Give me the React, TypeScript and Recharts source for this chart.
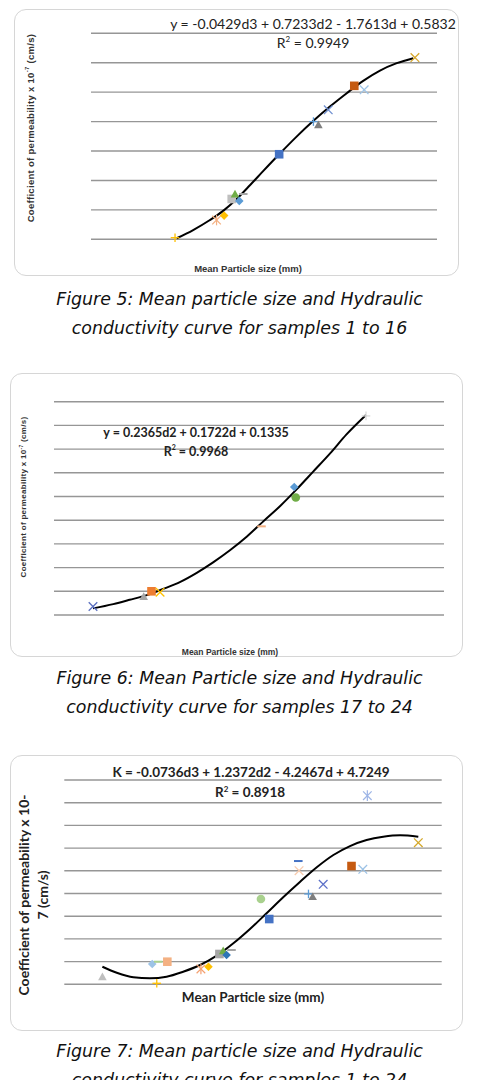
import React from "react";
import { ComposedChart, Scatter, Line, XAxis, YAxis, ReferenceLine } from "recharts";

// Figure 5 – samples 1 to 16
const fig5Size = [2.55, 3.81, 4.04, 4.27, 4.37, 4.5, 4.62, 5.71, 6.75, 6.9, 7.2, 7.99, 8.29, 9.83];
const fig5K = [0.11, 1.31, 1.61, 2.74, 3.08, 2.61, 3.08, 5.78, 8.0, 7.78, 8.8, 10.43, 10.16, 12.35];
const fig5TrendSize = [2.6, 3.1, 3.61, 4.02, 4.42, 4.83, 5.23, 5.71, 6.24, 6.75, 7.25, 7.76, 8.26, 8.77, 9.28, 9.78];
const fig5TrendK = [0.07, 0.63, 1.31, 1.95, 2.74, 3.69, 4.65, 5.78, 6.98, 8.05, 9.02, 9.93, 10.77, 11.47, 11.97, 12.31];
const fig5Ticks = [0, 2, 4, 6, 8, 10, 12, 14];

// Figure 6 – samples 17 to 24
const fig6Size = [0.5, 1.15, 1.25, 1.36, 2.66, 3.08, 3.1, 4.0];
const fig6K = [0.18, 0.39, 0.5, 0.48, 1.87, 2.7, 2.48, 4.2];
const fig6TrendSize = [0.5, 0.76, 0.97, 1.19, 1.4, 1.62, 1.83, 2.04, 2.26, 2.47, 2.68, 2.9, 3.11, 3.32, 3.54, 3.75, 4.0];
const fig6TrendK = [0.14, 0.23, 0.32, 0.42, 0.55, 0.7, 0.89, 1.11, 1.37, 1.65, 1.97, 2.3, 2.65, 3.02, 3.41, 3.81, 4.22];
const fig6Ticks = [0, 0.5, 1, 1.5, 2, 2.5, 3, 3.5, 4, 4.5];

// Figure 7 – samples 1 to 24
const fig7Size = [1.01, 2.33, 2.49, 2.73, 2.45, 3.62, 3.82, 4.11, 4.21, 4.3, 4.43, 5.21, 5.43, 6.2, 6.22, 6.47, 6.58, 6.86, 7.61, 7.91, 8.03, 9.38];
const fig7K = [0.67, 1.79, 1.99, 1.99, 0.09, 1.35, 1.55, 2.67, 2.96, 2.58, 3.02, 7.52, 5.75, 10.86, 10.01, 7.96, 7.72, 8.81, 10.42, 10.13, 16.62, 12.48];
const fig7TrendSize = [1.01, 1.39, 1.83, 2.27, 2.71, 3.15, 3.6, 4.04, 4.48, 4.92, 5.36, 5.8, 6.25, 6.69, 7.13, 7.57, 8.01, 8.45, 8.9, 9.38];
const fig7TrendK = [1.55, 1.02, 0.62, 0.53, 0.67, 1.11, 1.7, 2.52, 3.61, 4.87, 6.26, 7.67, 9.04, 10.31, 11.39, 12.18, 12.71, 13.0, 13.13, 13.0];
const fig7Ticks = [0, 2, 4, 6, 8, 10, 12, 14, 16, 18];

// marker styles, one per sample (kept apart from the values)
const fig5Marks = ["plus", "star", "diamond", "square", "triangle", "diamond", "dash", "square", "plus", "triangle", "x", "square", "x", "x"];
const fig5Colors = ["#FFC000", "#F4B183", "#FFC000", "#BFBFBF", "#70AD47", "#5B9BD5", "#A5A5A5", "#4472C4", "#5B9BD5", "#7F7F7F", "#6F8FD0", "#C55A11", "#9DC3E6", "#D6A62A"];
const fig6Marks = ["x", "triangle", "square", "x", "dash", "diamond", "circle", "plus"];
const fig6Colors = ["#5A6FC0", "#A5A5A5", "#ED7D31", "#FFC000", "#F4B183", "#5B9BD5", "#70AD47", "#D9D9D9"];
const fig7Marks = ["triangle", "diamond", "dash", "square", "plus", "star", "diamond", "square", "triangle", "diamond", "dash", "circle", "square", "dash", "x", "plus", "triangle", "x", "square", "x", "star", "x"];
const fig7Colors = ["#BFBFBF", "#9DC3E6", "#A9D18E", "#F4B183", "#FFC000", "#F4A070", "#FFC000", "#A5A5A5", "#70AD47", "#2E75B6", "#A5A5A5", "#A9D18E", "#4472C4", "#4472C4", "#F8CBAD", "#5B9BD5", "#7F7F7F", "#5B6FC8", "#C55A11", "#9DC3E6", "#9DB5E6", "#D4A829"];

const drawMark = (kind: string, color: string) => (p: any) => {
  const { cx, cy } = p;
  if (cx == null || cy == null) return <g />;
  const s = 4.3;
  switch (kind) {
    case "square":
      return <rect x={cx - s} y={cy - s} width={2 * s} height={2 * s} fill={color} />;
    case "diamond":
      return <polygon points={`${cx},${cy - s} ${cx + s},${cy} ${cx},${cy + s} ${cx - s},${cy}`} fill={color} />;
    case "triangle":
      return <polygon points={`${cx},${cy - s} ${cx + s},${cy + s * 0.8} ${cx - s},${cy + s * 0.8}`} fill={color} />;
    case "circle":
      return <circle cx={cx} cy={cy} r={s} fill={color} />;
    case "x":
      return (
        <g stroke={color} strokeWidth={1.3}>
          <line x1={cx - s} y1={cy - s} x2={cx + s} y2={cy + s} />
          <line x1={cx - s} y1={cy + s} x2={cx + s} y2={cy - s} />
        </g>
      );
    case "plus":
      return (
        <g stroke={color} strokeWidth={1.3}>
          <line x1={cx - s} y1={cy} x2={cx + s} y2={cy} />
          <line x1={cx} y1={cy - s} x2={cx} y2={cy + s} />
        </g>
      );
    case "star":
      return (
        <g stroke={color} strokeWidth={1.2}>
          <line x1={cx - s} y1={cy - s} x2={cx + s} y2={cy + s} />
          <line x1={cx - s} y1={cy + s} x2={cx + s} y2={cy - s} />
          <line x1={cx} y1={cy - s - 1} x2={cx} y2={cy + s + 1} />
        </g>
      );
    default:
      return <line x1={cx - s} y1={cy} x2={cx + s} y2={cy} stroke={color} strokeWidth={2} />;
  }
};

type PlotProps = {
  top: number;
  height: number;
  margin: { top: number; right: number; bottom: number; left: number };
  xMax: number;
  ticks: number[];
  sizes: number[];
  ks: number[];
  marks: string[];
  colors: string[];
  trendSize: number[];
  trendK: number[];
};

const Plot = (props: PlotProps) => {
  const trend = props.trendSize.map((d, i) => ({ d, k: props.trendK[i] }));
  const yMax = props.ticks[props.ticks.length - 1];
  return (
    <div style={{ position: "absolute", left: 0, top: props.top }}>
      <ComposedChart width={479} height={props.height} margin={props.margin}>
        <XAxis type="number" dataKey="d" domain={[0, props.xMax]} tick={false} axisLine={false} tickLine={false} height={0} />
        <YAxis type="number" dataKey="k" domain={[0, yMax]} ticks={props.ticks} tick={false} axisLine={false} tickLine={false} width={0} />
        {/* horizontal gridlines at the (unlabelled) y ticks */}
        {props.ticks.map((t) => (
          <ReferenceLine key={t} y={t} stroke="#969696" strokeWidth={1.4} />
        ))}
        {props.sizes.map((d, i) => (
          <Scatter
            key={i}
            data={[{ d, k: props.ks[i] }]}
            shape={drawMark(props.marks[i], props.colors[i])}
            isAnimationActive={false}
          />
        ))}
        <Line data={trend} dataKey="k" type="monotone" stroke="#000" strokeWidth={2} dot={false} isAnimationActive={false} />
      </ComposedChart>
    </div>
  );
};

const abs = (left: number, top: number, extra: React.CSSProperties = {}): React.CSSProperties => ({
  position: "absolute",
  left,
  top,
  transform: "translate(-50%, -50%)",
  whiteSpace: "nowrap",
  ...extra,
});

const rot = (left: number, top: number, extra: React.CSSProperties = {}): React.CSSProperties => ({
  ...abs(left, top, extra),
  transform: "translate(-50%, -50%) rotate(-90deg)",
});

const calibri = "Lato, 'Open Sans', sans-serif";
const arial = "'Liberation Sans', Arial, sans-serif";
const caption: React.CSSProperties = {
  position: "absolute",
  left: 0,
  width: 479,
  textAlign: "center",
  fontFamily: "'DejaVu Sans', Verdana, sans-serif",
  fontStyle: "italic",
  fontSize: 17.4,
  lineHeight: "29px",
  color: "#111",
};
const box = (left: number, top: number, w: number, h: number): React.CSSProperties => ({
  position: "absolute",
  left,
  top,
  width: w,
  height: h,
  border: "1.5px solid #d6d6d6",
  borderRadius: 12,
  boxSizing: "border-box",
});

export default function App() {
  return (
    <div style={{ position: "absolute", left: 0, top: 0, width: 479, height: 1080, background: "#fff", overflow: "hidden" }}>
      {/* Figure 5 */}
      <div style={box(14, 9, 445, 267)} />
      <Plot
        top={0}
        height={280}
        margin={{ top: 33.3, right: 42, bottom: 40.7, left: 91 }}
        xMax={10.5}
        ticks={fig5Ticks}
        sizes={fig5Size}
        ks={fig5K}
        marks={fig5Marks}
        colors={fig5Colors}
        trendSize={fig5TrendSize}
        trendK={fig5TrendK}
      />
      <div style={abs(313, 23, { fontFamily: calibri, fontSize: 14, color: "#222" })}>y = -0.0429d3 + 0.7233d2 - 1.7613d + 0.5832</div>
      <div style={abs(313, 42, { fontFamily: calibri, fontSize: 14, color: "#222" })}>
        R<sup style={{ fontSize: 8 }}>2</sup> = 0.9949
      </div>
      <div style={rot(30, 128, { fontFamily: arial, fontWeight: "bold", fontSize: 9.5, color: "#333", letterSpacing: 0.3 })}>
        Coefficient of permeability x 10<sup style={{ fontSize: 6 }}>-7</sup> (cm/s)
      </div>
      <div style={abs(248, 268, { fontFamily: arial, fontWeight: "bold", fontSize: 9.5, color: "#333" })}>Mean Particle size (mm)</div>
      <div style={{ ...caption, top: 285 }}>
        Figure 5: Mean particle size and Hydraulic
        <br />
        conductivity curve for samples 1 to 16
      </div>

      {/* Figure 6 */}
      <div style={box(10, 373, 453, 284)} />
      <Plot
        top={360}
        height={300}
        margin={{ top: 41.7, right: 35, bottom: 45, left: 54 }}
        xMax={5}
        ticks={fig6Ticks}
        sizes={fig6Size}
        ks={fig6K}
        marks={fig6Marks}
        colors={fig6Colors}
        trendSize={fig6TrendSize}
        trendK={fig6TrendK}
      />
      <div style={abs(196, 432, { fontFamily: calibri, fontWeight: "bold", fontSize: 12.5, color: "#222" })}>y = 0.2365d2 + 0.1722d + 0.1335</div>
      <div style={abs(196, 451, { fontFamily: calibri, fontWeight: "bold", fontSize: 12.5, color: "#222" })}>
        R<sup style={{ fontSize: 7 }}>2</sup> = 0.9968
      </div>
      <div style={rot(23, 497, { fontFamily: arial, fontWeight: "bold", fontSize: 8, color: "#333", letterSpacing: 0.3 })}>
        Coefficient of permeability x 10<sup style={{ fontSize: 5 }}>-7</sup> (cm/s)
      </div>
      <div style={abs(230, 652, { fontFamily: arial, fontWeight: "bold", fontSize: 8.5, color: "#333" })}>Mean Particle size (mm)</div>
      <div style={{ ...caption, top: 664 }}>
        Figure 6: Mean Particle size and Hydraulic
        <br />
        conductivity curve for samples 17 to 24
      </div>

      {/* Figure 7 */}
      <div style={box(10, 755, 453, 276)} />
      <Plot
        top={750}
        height={290}
        margin={{ top: 30, right: 37.3, bottom: 55.7, left: 64.3 }}
        xMax={10}
        ticks={fig7Ticks}
        sizes={fig7Size}
        ks={fig7K}
        marks={fig7Marks}
        colors={fig7Colors}
        trendSize={fig7TrendSize}
        trendK={fig7TrendK}
      />
      <div style={abs(251, 772, { fontFamily: calibri, fontWeight: "bold", fontSize: 13.5, color: "#222" })}>K = -0.0736d3 + 1.2372d2 - 4.2467d + 4.7249</div>
      <div style={abs(250, 792, { fontFamily: calibri, fontWeight: "bold", fontSize: 13.5, color: "#222" })}>
        R<sup style={{ fontSize: 8 }}>2</sup> = 0.8918
      </div>
      <div style={rot(33, 895, { fontFamily: calibri, fontWeight: "bold", fontSize: 14, color: "#222", textAlign: "center", lineHeight: "19px" })}>
        Coefficient of permeability x 10-
        <br />7 (cm/s)
      </div>
      <div style={abs(253, 997, { fontFamily: calibri, fontWeight: "bold", fontSize: 13.5, color: "#222" })}>Mean Particle size (mm)</div>
      <div style={{ ...caption, top: 1037 }}>
        Figure 7: Mean particle size and Hydraulic
        <br />
        conductivity curve for samples 1 to 24
      </div>
    </div>
  );
}
